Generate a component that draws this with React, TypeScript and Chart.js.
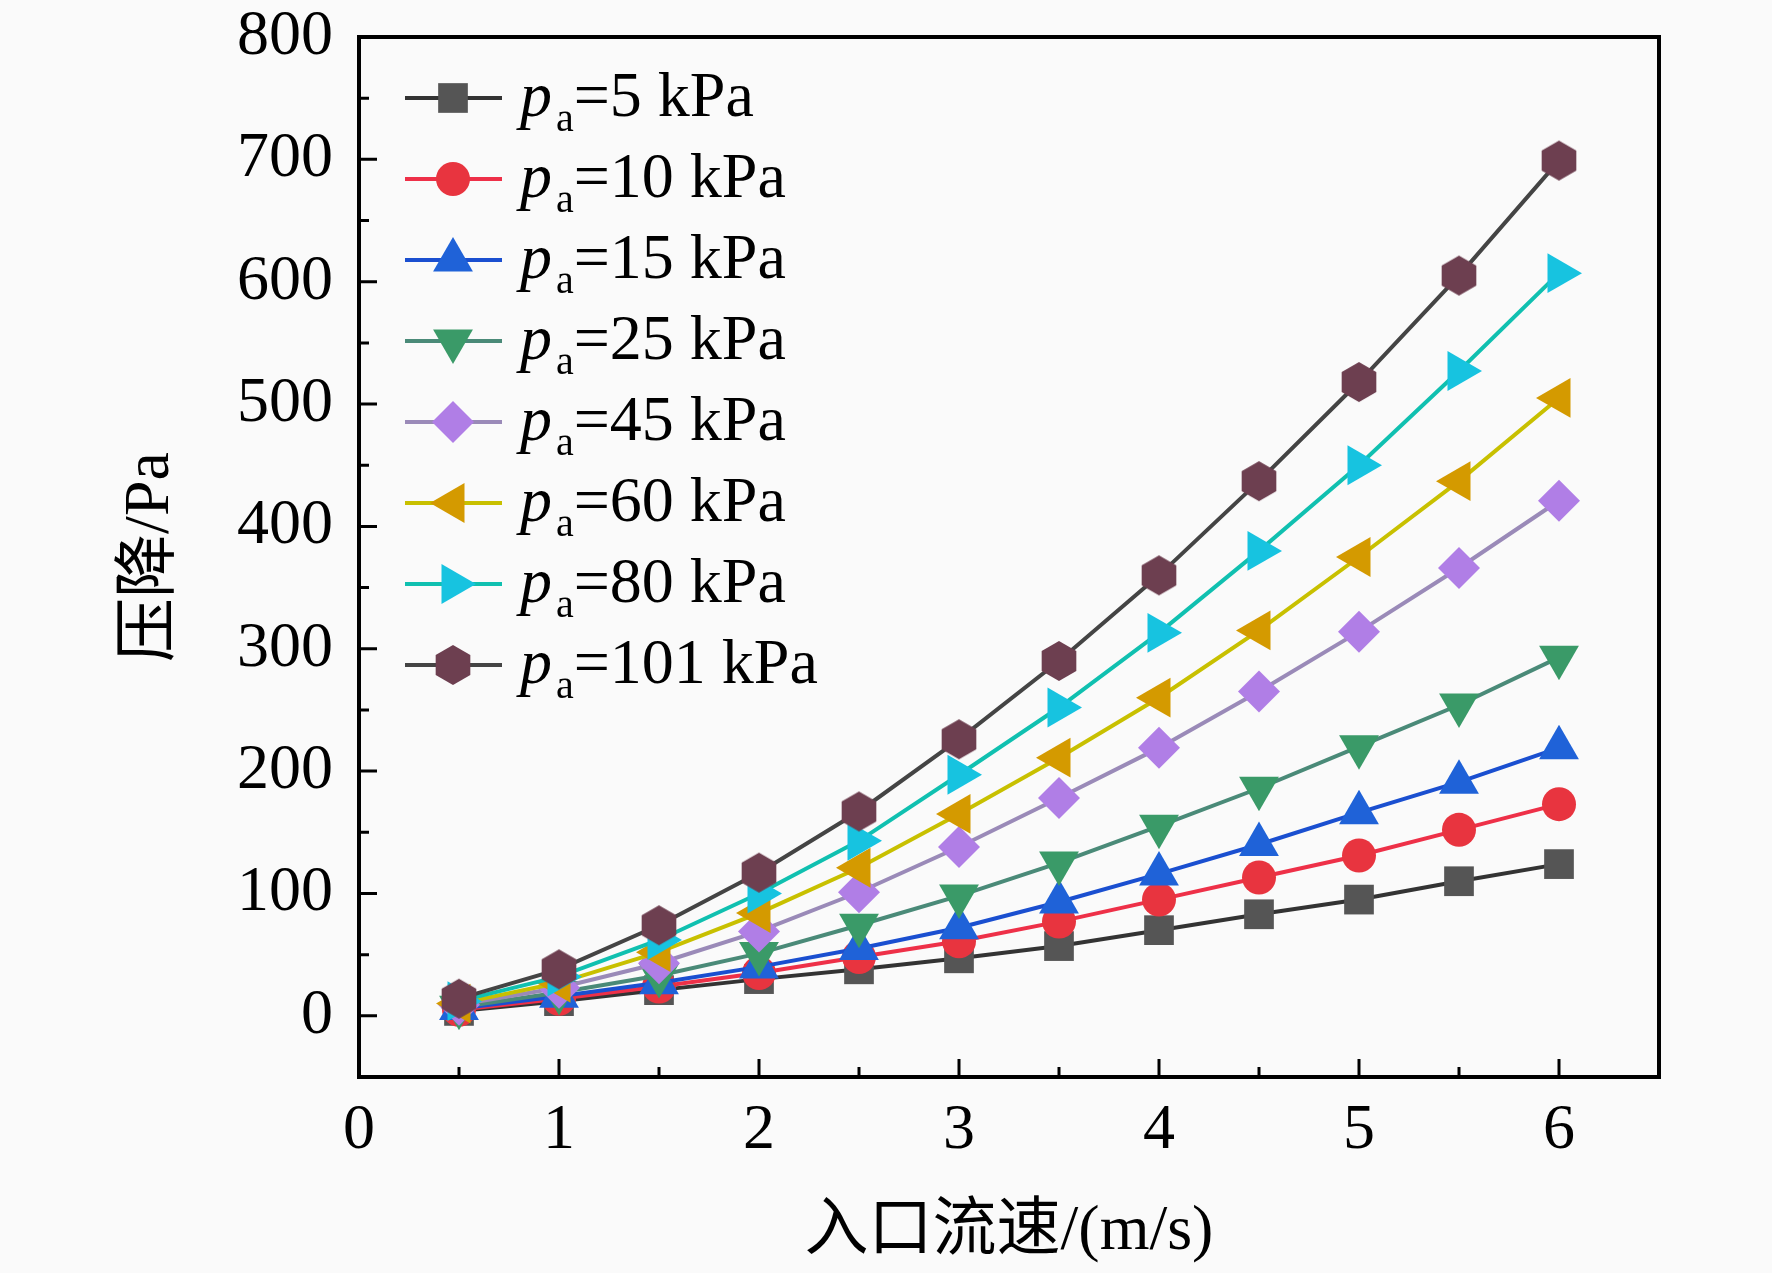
import { useEffect, useRef } from "react";
import { Chart, registerables } from "chart.js";
import { drawPoint } from "chart.js/helpers";

Chart.register(...registerables);

// inlet velocity (m/s)
const velocity = [0.5, 1, 1.5, 2, 2.5, 3, 3.5, 4, 4.5, 5, 5.5, 6];
// ambient pressure of each curve (kPa)
const pressures = [5, 10, 15, 25, 45, 60, 80, 101];

// pressure drop (Pa)
const drop5 = [4, 12, 21, 30, 38, 47, 57, 70, 83, 95, 110, 124];
const drop10 = [5, 14, 24, 35, 48, 61, 77, 95, 113, 131, 152, 173];
const drop15 = [6, 16, 27, 40, 55, 72, 93, 116, 140, 166, 191, 219];
const drop25 = [7, 19, 33, 51, 74, 98, 125, 155, 186, 220, 254, 293];
const drop45 = [9, 23, 43, 69, 101, 138, 178, 219, 265, 314, 366, 421];
const drop60 = [10, 27, 52, 84, 121, 165, 211, 260, 315, 375, 437, 505];
const drop80 = [12, 32, 62, 100, 143, 197, 252, 313, 380, 450, 527, 607];
const drop101 = [14, 38, 74, 117, 167, 226, 290, 360, 437, 518, 605, 699];
const drops = [drop5, drop10, drop15, drop25, drop45, drop60, drop80, drop101];

const yTicks = [0, 100, 200, 300, 400, 500, 600, 700, 800];
const yMinorTicks = [50, 150, 250, 350, 450, 550, 650, 750];
const xTicks = [0, 1, 2, 3, 4, 5, 6];
const xMinorTicks = [0.5, 1.5, 2.5, 3.5, 4.5, 5.5];

const SERIF = "'Liberation Serif', 'Times New Roman', 'Noto Sans CJK SC', serif";

const seriesStyle = [
  { line: "#333333", fill: "#555555", shape: "rect", radius: 21, rot: 0 },
  { line: "#ee3048", fill: "#e8343f", shape: "circle", radius: 17, rot: 0 },
  { line: "#1a4fd0", fill: "#1f62d8", shape: "triangle", radius: 23, rot: 0 },
  { line: "#4a8a78", fill: "#3a9a68", shape: "triangle", radius: 23, rot: 180 },
  { line: "#9a8ab8", fill: "#b07ee6", shape: "rectRot", radius: 21, rot: 0 },
  { line: "#c8c000", fill: "#d49a00", shape: "triangle", radius: 23, rot: -90 },
  { line: "#10c0b0", fill: "#17c3e0", shape: "triangle", radius: 23, rot: 90 },
  { line: "#444444", fill: "#6d3f50", shape: "hexagon", radius: 20, rot: 0 },
];

function makeHexagon(r: number, color: string) {
  const c = document.createElement("canvas");
  const size = Math.ceil(r * 2 + 2);
  c.width = size;
  c.height = size;
  const g = c.getContext("2d")!;
  g.fillStyle = color;
  g.beginPath();
  for (let k = 0; k < 6; k++) {
    const a = (Math.PI / 3) * k - Math.PI / 2;
    const px = size / 2 + r * Math.cos(a);
    const py = size / 2 + r * Math.sin(a);
    if (k === 0) g.moveTo(px, py);
    else g.lineTo(px, py);
  }
  g.closePath();
  g.fill();
  return c;
}

function App() {
  const canvasRef = useRef<HTMLCanvasElement | null>(null);

  useEffect(() => {
    if (!canvasRef.current) return;

    const shapes = seriesStyle.map((s) =>
      s.shape === "hexagon" ? makeHexagon(s.radius, s.fill) : s.shape
    );

    const frameAndLegend = {
      id: "frameAndLegend",
      afterDraw(chart: any) {
        const { ctx, chartArea: a, scales } = chart;
        const xs = scales.x;
        const ys = scales.y;
        ctx.save();
        ctx.strokeStyle = "#000";
        ctx.lineWidth = 3;
        ctx.beginPath();
        yTicks.forEach((v) => {
          const py = ys.getPixelForValue(v);
          ctx.moveTo(a.left, py);
          ctx.lineTo(a.left + 18, py);
        });
        yMinorTicks.forEach((v) => {
          const py = ys.getPixelForValue(v);
          ctx.moveTo(a.left, py);
          ctx.lineTo(a.left + 10, py);
        });
        xTicks.forEach((v) => {
          const px = xs.getPixelForValue(v);
          ctx.moveTo(px, a.bottom);
          ctx.lineTo(px, a.bottom - 18);
        });
        xMinorTicks.forEach((v) => {
          const px = xs.getPixelForValue(v);
          ctx.moveTo(px, a.bottom);
          ctx.lineTo(px, a.bottom - 10);
        });
        ctx.stroke();

        ctx.lineWidth = 4;
        ctx.strokeRect(a.left, a.top, a.right - a.left, a.bottom - a.top);

        // legend
        pressures.forEach((p, i) => {
          const s = seriesStyle[i];
          const cy = 98 + 81 * i;
          ctx.strokeStyle = s.line;
          ctx.lineWidth = 4;
          ctx.beginPath();
          ctx.moveTo(405, cy);
          ctx.lineTo(502, cy);
          ctx.stroke();
          ctx.fillStyle = s.fill;
          drawPoint(
            ctx,
            { pointStyle: shapes[i], radius: s.radius, rotation: s.rot, borderWidth: 0 } as any,
            453,
            cy
          );

          ctx.fillStyle = "#000";
          ctx.textBaseline = "alphabetic";
          ctx.textAlign = "left";
          let x = 520;
          ctx.font = `italic 64px ${SERIF}`;
          ctx.fillText("p", x, cy + 18);
          x += ctx.measureText("p").width + 4;
          ctx.font = `40px ${SERIF}`;
          ctx.fillText("a", x, cy + 33);
          x += ctx.measureText("a").width;
          ctx.font = `64px ${SERIF}`;
          ctx.fillText(`=${p} kPa`, x, cy + 18);
        });
        ctx.restore();
      },
    };

    const chart = new Chart(canvasRef.current, {
      type: "line",
      data: {
        datasets: pressures.map((p, i) => ({
          label: `${p} kPa`,
          data: velocity.map((v, j) => ({ x: v, y: drops[i][j] })),
          borderColor: seriesStyle[i].line,
          backgroundColor: seriesStyle[i].fill,
          borderWidth: 4,
          pointStyle: shapes[i] as any,
          pointRadius: seriesStyle[i].radius,
          pointRotation: seriesStyle[i].rot,
          pointBackgroundColor: seriesStyle[i].fill,
          pointBorderColor: seriesStyle[i].fill,
          pointBorderWidth: 0,
          fill: false,
          tension: 0,
          order: pressures.length - 1 - i,
        })),
      },
      options: {
        animation: false,
        responsive: true,
        maintainAspectRatio: false,
        layout: { padding: { top: 37, right: 113, left: 0, bottom: 0 } },
        plugins: {
          legend: { display: false },
          tooltip: { enabled: false },
        },
        scales: {
          x: {
            type: "linear",
            min: 0,
            max: 6.5,
            grid: { display: false, drawTicks: false },
            border: { display: false },
            afterBuildTicks: (s: any) => {
              s.ticks = xTicks.map((v) => ({ value: v }));
            },
            afterFit: (s: any) => {
              s.height = 196;
              s.paddingLeft = 0;
              s.paddingRight = 0;
            },
            ticks: {
              color: "#000",
              padding: 16,
              maxRotation: 0,
              font: { family: SERIF, size: 64 },
            },
            title: {
              display: true,
              text: "入口流速/(m/s)",
              color: "#000",
              font: { family: SERIF, size: 64 },
              padding: { top: 0, bottom: 2 },
            },
          },
          y: {
            type: "linear",
            min: -50,
            max: 800,
            grid: { display: false, drawTicks: false },
            border: { display: false },
            afterBuildTicks: (s: any) => {
              s.ticks = yTicks.map((v) => ({ value: v }));
            },
            afterFit: (s: any) => {
              s.width = 359;
              s.paddingTop = 0;
              s.paddingBottom = 0;
            },
            ticks: {
              color: "#000",
              padding: 26,
              font: { family: SERIF, size: 64 },
            },
            title: {
              display: true,
              text: "压降/Pa",
              color: "#000",
              font: { family: SERIF, size: 64 },
              padding: { top: 113, bottom: 0 },
            },
          },
        },
      },
      plugins: [frameAndLegend],
    });

    return () => {
      chart.destroy();
    };
  }, []);

  return (
    <div
      style={{
        position: "absolute",
        left: 0,
        top: 0,
        width: 1772,
        height: 1273,
        background: "#fafafa",
      }}
    >
      <canvas ref={canvasRef} />
    </div>
  );
}

export default App;
